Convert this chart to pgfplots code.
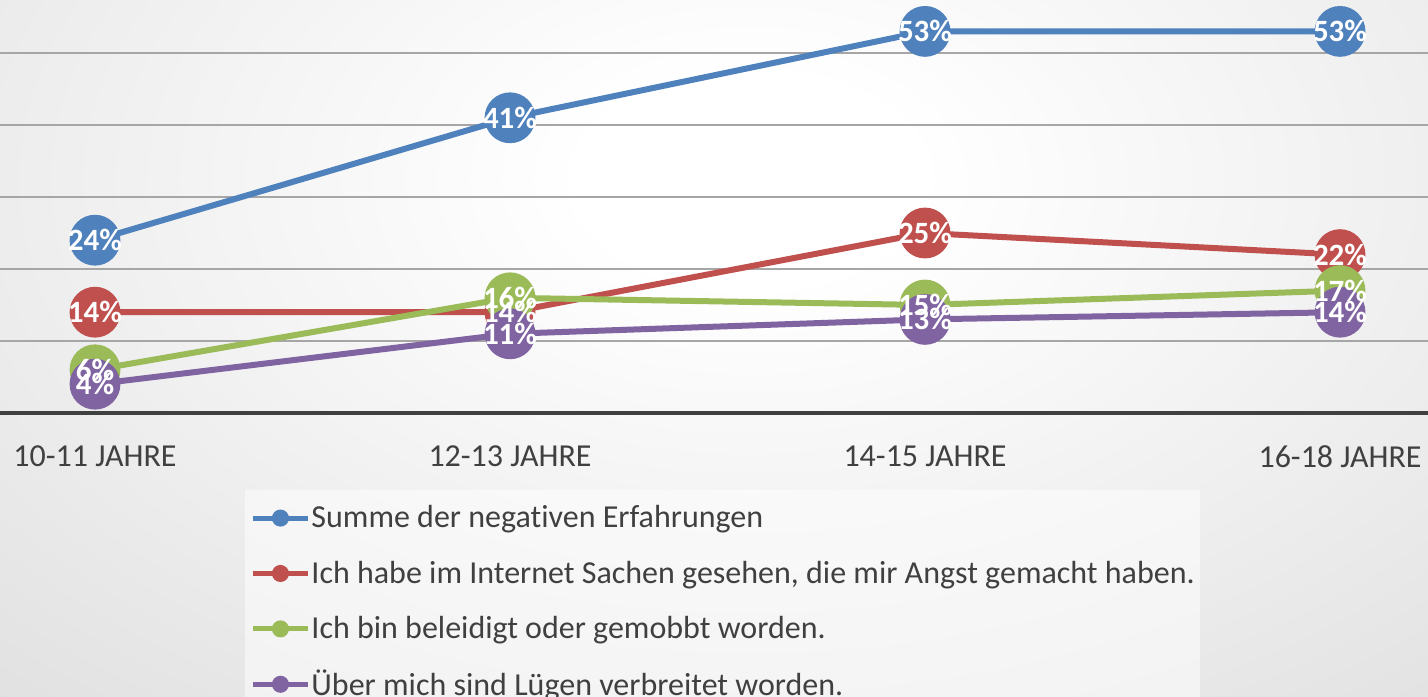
\documentclass[border=0pt]{standalone}
\usepackage{fontspec}
\setmainfont{Carlito}[Ligatures=NoCommon]
\usepackage{pgfplots}
\pgfplotsset{compat=1.18}
\definecolor{cblue}{HTML}{4F81BD}
\definecolor{cred}{HTML}{C0504D}
\definecolor{cgreen}{HTML}{9BBB59}
\definecolor{cpurple}{HTML}{8064A2}
\definecolor{txt}{HTML}{404040}
\definecolor{gridc}{HTML}{A6A6A6}
\definecolor{bggray}{HTML}{D0D0D0}
\pgfdeclareradialshading{bgshade}{\pgfpoint{0bp}{0bp}}{color(0bp)=(white); color(5bp)=(white); color(50bp)=(bggray)}
\begin{document}
\begin{tikzpicture}
\useasboundingbox (0,0) rectangle (714pt,348pt);
\clip (0,0) rectangle (714pt,348pt);
\path[shading=bgshade] (-45pt,-2pt) rectangle (795pt,518pt);
\begin{axis}[
  at={(0pt,141.5pt)}, anchor=south west,
  scale only axis, width=714pt, height=206.5pt,
  xmin=-0.2289, xmax=3.212, ymin=0, ymax=57.36,
  clip=false,
  axis line style={draw=none},
  xtick={0,1,2,3},
  xticklabels={10-11 JAHRE,12-13 JAHRE,14-15 JAHRE,16-18 JAHRE},
  ytick={10,20,30,40,50},
  yticklabels={},
  extra y ticks={0}, extra y tick labels={},
  extra y tick style={grid=major, major grid style={line width=2pt, color=txt}},
  major tick length=0pt,
  ymajorgrids,
  major grid style={line width=1pt, color=gridc},
  xticklabel style={font=\fontsize{16}{19}\selectfont, text=txt, yshift=-13pt},
  /pgf/number format/assume math mode=true,
  point meta=y,
  every axis plot/.append style={line width=3pt, mark=*, mark size=11.2pt, mark options={draw=none}},
  legend cell align=left,
  legend style={at={(0.1716,-0.1864)}, anchor=north west, draw=none, fill=white, fill opacity=0.5, text opacity=1,
    inner xsep=2.5pt, inner ysep=0pt, font=\fontsize{16}{19}\selectfont, text=txt, row sep=0pt, column sep=0.5pt,
    nodes={inner sep=0pt, minimum height=27.7pt}},
  legend image code/.code={\draw[#1, line width=2.5pt, fill opacity=1, mark size=3pt, mark repeat=2, mark phase=2] plot coordinates {(0pt,0pt) (13.75pt,0pt) (27.5pt,0pt)};},
  labelplot/.style={draw=none, mark=none, forget plot,
    nodes near coords={\pgfmathprintnumber[fixed,precision=0]{\pgfplotspointmeta}\%},
    nodes near coords align=center,
    every node near coord/.append style={text=white, font=\fontsize{15.5}{18}\selectfont\bfseries, inner sep=0pt}},
]
\addplot[cblue, mark options={fill=cblue}] coordinates {(0,24) (1,41) (2,53) (3,53)};
\addlegendentry{Summe der negativen Erfahrungen}
\addplot[cred, mark options={fill=cred}] coordinates {(0,14) (1,14) (2,25) (3,22)};
\addlegendentry{Ich habe im Internet Sachen gesehen, die mir Angst gemacht haben.}
\addplot[cgreen, mark options={fill=cgreen}] coordinates {(0,6) (1,16) (2,15) (3,17)};
\addlegendentry{Ich bin beleidigt oder gemobbt worden.}
\addplot[cpurple, mark options={fill=cpurple}] coordinates {(0,4) (1,11) (2,13) (3,14)};
\addlegendentry{Über mich sind Lügen verbreitet worden.}
\addplot[labelplot] coordinates {(0,24) (1,41) (2,53) (3,53)};
\addplot[labelplot] coordinates {(0,14) (1,14) (2,25) (3,22)};
\addplot[labelplot] coordinates {(0,6) (1,16) (2,15) (3,17)};
\addplot[labelplot] coordinates {(0,4) (1,11) (2,13) (3,14)};
\end{axis}
\end{tikzpicture}
\end{document}
